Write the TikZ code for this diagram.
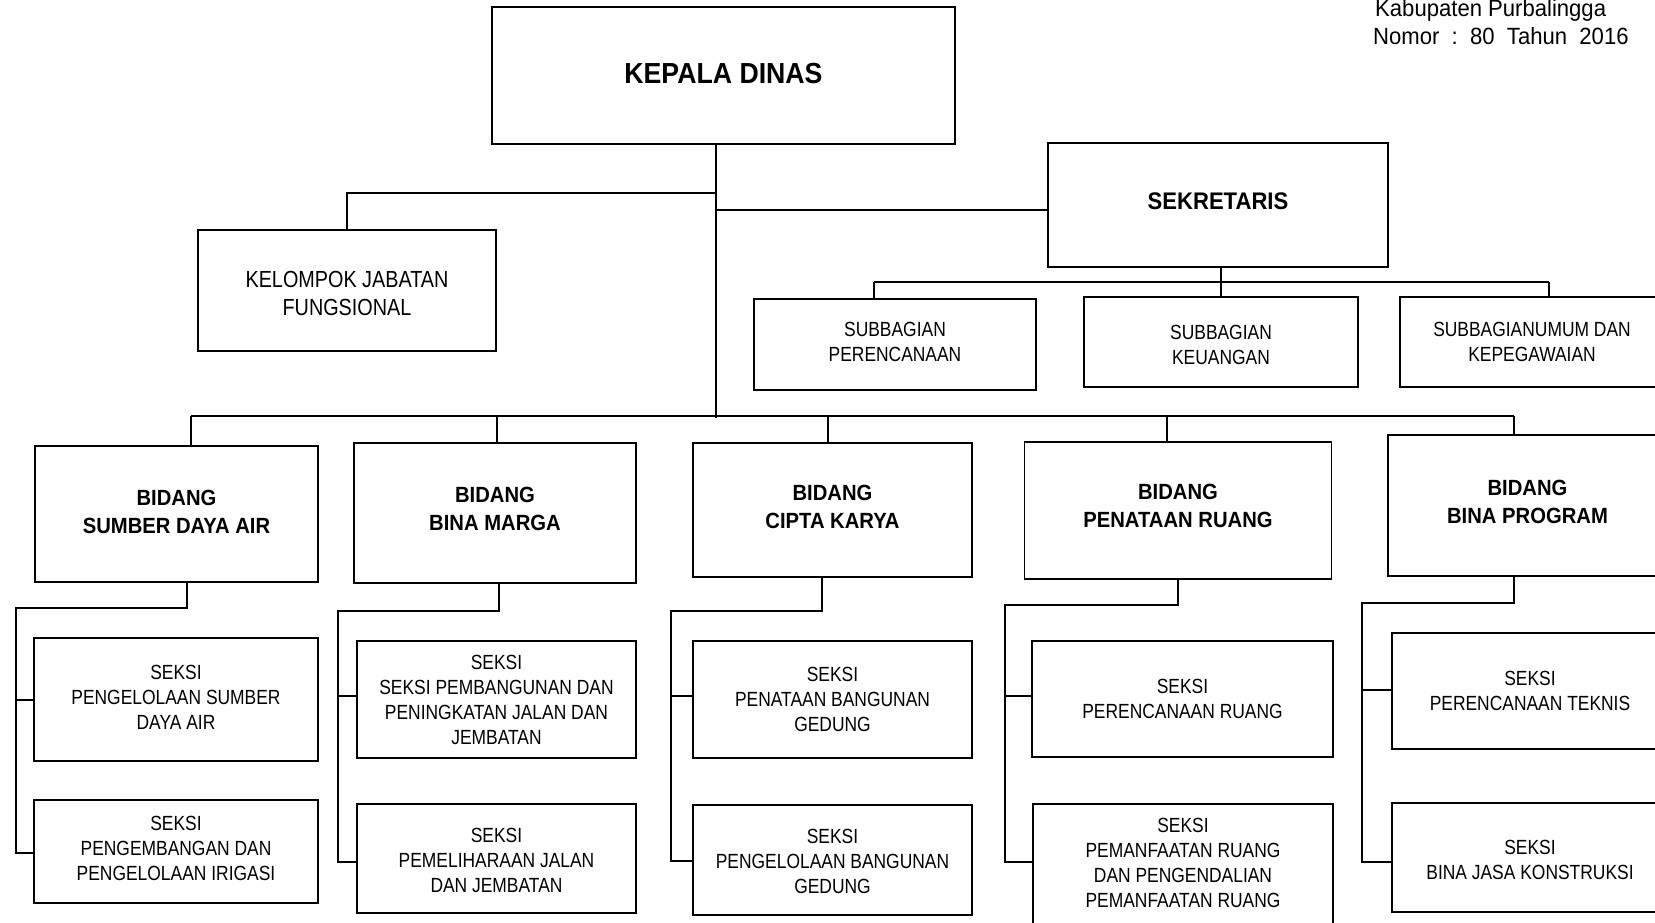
\documentclass[tikz,border=0pt]{standalone}
\usepackage{fontspec}
\setmainfont{Liberation Sans}[FakeStretch=0.85]
\newfontfamily\boldfam{Liberation Sans}[FakeStretch=0.92]
\newfontfamily\hdrfam{Liberation Sans}[FakeStretch=0.94]
\newcommand\regfnt{\fontsize{20.5}{25}\selectfont}
\newcommand\kelfnt{\fontsize{23.3}{28}\selectfont}
\newcommand\bidfnt{\boldfam\fontsize{22}{28}\selectfont\bfseries}
\newcommand\sekfnt{\boldfam\fontsize{24}{28}\selectfont\bfseries}
\newcommand\kepfnt{\boldfam\fontsize{29}{32}\selectfont\bfseries}
\newcommand\hdrfnt{\hdrfam\fontsize{23.5}{27}\selectfont}
\tikzset{
  box/.style={draw, line width=1.6pt, rectangle, inner sep=0pt},
  tx/.style={inner sep=0pt, align=center, font=\regfnt},
  bidtx/.style={tx, font=\bidfnt},
  lnk/.style={line width=1.6pt},
  hdr/.style={anchor=base west, inner sep=0pt, font=\hdrfnt},
}
\begin{document}
\begin{tikzpicture}[x=1pt,y=1pt]
\useasboundingbox (0,0) rectangle (1655,-923);
\clip (0,0) rectangle (1655,-923);

% header
\node[hdr] (hdr1) at (1375,-17) {Kabupaten Purbalingga};
\node[hdr] (hdr2) at (1373,-45) {Nomor\ \ :\ \ 80\ \ Tahun\ \ 2016};

% top level
\node[box, minimum width=463pt, minimum height=137pt] (kepala) at (723.5,-75.5) {};
\node[tx, font=\kepfnt] (kepala-t) at ([yshift=2pt]kepala.center) {KEPALA DINAS};
\node[box, minimum width=298pt, minimum height=121pt] (kelompok) at (347,-290.5) {};
\node[tx, font=\kelfnt] (kelompok-t) at ([yshift=-3pt]kelompok.center) {KELOMPOK JABATAN\\FUNGSIONAL};
\node[box, minimum width=340pt, minimum height=124pt] (sekretaris) at (1218,-205) {};
\node[tx, font=\sekfnt] (sekretaris-t) at ([yshift=4pt]sekretaris.center) {SEKRETARIS};

% subbagian
\node[box, minimum width=282pt, minimum height=91pt] (subper) at (895,-344.5) {};
\node[tx] (subper-t) at ([yshift=3pt]subper.center) {SUBBAGIAN\\PERENCANAAN};
\node[box, minimum width=274pt, minimum height=90pt] (subkeu) at (1221,-342) {};
\node[tx] (subkeu-t) at ([yshift=-3pt]subkeu.center) {SUBBAGIAN\\KEUANGAN};
\node[box, minimum width=264pt, minimum height=90pt] (subumum) at (1532,-342) {};
\node[tx] (subumum-t) at (subumum.center) {SUBBAGIANUMUM DAN\\KEPEGAWAIAN};

% bidang
\node[box, minimum width=283pt, minimum height=136pt] (sda) at (176.5,-514) {};
\node[bidtx] (sda-t) at ([yshift=2pt]sda.center) {BIDANG\\SUMBER DAYA AIR};
\node[box, minimum width=282pt, minimum height=140pt] (bm) at (495,-513) {};
\node[bidtx] (bm-t) at ([yshift=4pt]bm.center) {BIDANG\\BINA MARGA};
\node[box, minimum width=279pt, minimum height=134pt] (ck) at (832.5,-510) {};
\node[bidtx] (ck-t) at ([yshift=3pt]ck.center) {BIDANG\\CIPTA KARYA};
\node[box, minimum width=307pt, minimum height=137pt] (pr) at (1178,-510.5) {};
\node[bidtx] (pr-t) at ([yshift=5pt]pr.center) {BIDANG\\PENATAAN RUANG};
\node[box, minimum width=279pt, minimum height=141pt] (bp) at (1527.5,-505.5) {};
\node[bidtx] (bp-t) at ([yshift=4pt]bp.center) {BIDANG\\BINA PROGRAM};

% seksi
\node[box, minimum width=284pt, minimum height=123pt] (sda1) at (176,-699.5) {};
\node[tx] (sda1-t) at ([yshift=2pt]sda1.center) {SEKSI\\PENGELOLAAN SUMBER\\DAYA AIR};
\node[box, minimum width=284pt, minimum height=103pt] (sda2) at (176,-851.5) {};
\node[tx] (sda2-t) at ([yshift=3pt]sda2.center) {SEKSI\\PENGEMBANGAN DAN\\PENGELOLAAN IRIGASI};
\node[box, minimum width=279pt, minimum height=117pt] (bm1) at (496.5,-699.5) {};
\node[tx] (bm1-t) at (bm1.center) {SEKSI\\SEKSI PEMBANGUNAN DAN\\PENINGKATAN JALAN DAN\\JEMBATAN};
\node[box, minimum width=279pt, minimum height=109pt] (bm2) at (496.5,-858.5) {};
\node[tx] (bm2-t) at ([yshift=-2pt]bm2.center) {SEKSI\\PEMELIHARAAN JALAN\\DAN JEMBATAN};
\node[box, minimum width=279pt, minimum height=117pt] (ck1) at (832.5,-699.5) {};
\node[tx] (ck1-t) at (ck1.center) {SEKSI\\PENATAAN BANGUNAN\\GEDUNG};
\node[box, minimum width=279pt, minimum height=110pt] (ck2) at (832.5,-860) {};
\node[tx] (ck2-t) at ([yshift=-1pt]ck2.center) {SEKSI\\PENGELOLAAN BANGUNAN\\GEDUNG};
\node[box, minimum width=301pt, minimum height=116pt] (pr1) at (1182.5,-699) {};
\node[tx] (pr1-t) at (pr1.center) {SEKSI\\PERENCANAAN RUANG};
\node[box, minimum width=300pt, minimum height=136pt] (pr2) at (1183,-872) {};
\node[tx] (pr2-t) at ([yshift=9.5pt]pr2.center) {SEKSI\\PEMANFAATAN RUANG\\DAN PENGENDALIAN\\PEMANFAATAN RUANG};
\node[box, minimum width=276pt, minimum height=116pt] (bp1) at (1530,-691) {};
\node[tx] (bp1-t) at (bp1.center) {SEKSI\\PERENCANAAN TEKNIS};
\node[box, minimum width=276pt, minimum height=109pt] (bp2) at (1530,-857.5) {};
\node[tx] (bp2-t) at ([yshift=-2pt]bp2.center) {SEKSI\\BINA JASA KONSTRUKSI};

% bus coordinates
\coordinate (trunk) at (716,-418);
\coordinate (kelbus) at (716,-193);
\coordinate (sekbus) at (716,-210);
\coordinate (subL) at (874,-282);
\coordinate (subR) at (1549,-282);
\coordinate (bidL) at (191,-416);
\coordinate (bidR) at (1514,-416);

% connectors top
\draw[lnk] (kepala.south -| trunk) -- (trunk);
\draw[lnk] (kelbus) -| (kelompok.north);
\draw[lnk] (sekbus) -- (sekretaris.west |- sekbus);
\draw[lnk] (sekretaris.south -| subkeu.north) -- (subkeu.north);
\draw[lnk] (subL) -- (subR);
\draw[lnk] (subL) -- (subper.north -| subL);
\draw[lnk] (subR) -- (subumum.north -| subR);

% bidang bus
\draw[lnk] (bidL) -- (bidR);
\draw[lnk] (bidL) -- (sda.north -| bidL);
\draw[lnk] (497,-416) -- (bm.north -| 497,0);
\draw[lnk] (828,-416) -- (ck.north -| 828,0);
\draw[lnk] (1167,-416) -- (pr.north -| 1167,0);
\draw[lnk] (bidR) -- (bp.north -| bidR);

% seksi buses
\draw[lnk] (sda.south -| 187,0) |- (16,-608) |- (sda2.west |- 0,-853);
\draw[lnk] (16,-700) -- (sda1.west |- 0,-700);

\draw[lnk] (bm.south -| 499,0) |- (338,-611) |- (bm2.west |- 0,-862);
\draw[lnk] (338,-696) -- (bm1.west |- 0,-696);

\draw[lnk] (ck.south -| 822,0) |- (671,-611) |- (ck2.west |- 0,-861);
\draw[lnk] (671,-696) -- (ck1.west |- 0,-696);

\draw[lnk] (pr.south -| 1178,0) |- (1005,-605) |- (pr2.west |- 0,-862);
\draw[lnk] (1005,-696) -- (pr1.west |- 0,-696);

\draw[lnk] (bp.south -| 1514,0) |- (1362,-603) |- (bp2.west |- 0,-862);
\draw[lnk] (1362,-690) -- (bp1.west |- 0,-690);
\end{tikzpicture}
\end{document}
